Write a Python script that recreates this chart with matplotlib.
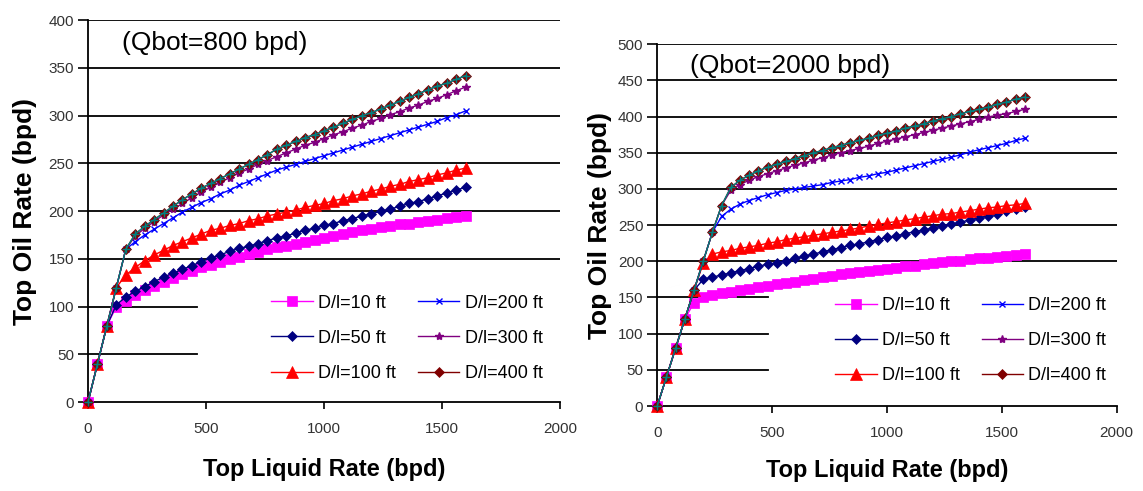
import matplotlib
matplotlib.use("Agg")
import matplotlib.pyplot as plt

plt.rcParams['font.family'] = ['Liberation Sans', 'DejaVu Sans']

# top liquid rate (bpd), same for every series
liquid_rate = [0, 40, 80, 120, 160, 200, 240, 280, 320, 360, 400, 440, 480, 520,
               560, 600, 640, 680, 720, 760, 800, 840, 880, 920, 960, 1000, 1040,
               1080, 1120, 1160, 1200, 1240, 1280, 1320, 1360, 1400, 1440, 1480,
               1520, 1560, 1600]

# Qbot = 800 bpd, top oil rate (bpd)
oil_800_10 = [0, 40, 80, 100, 106, 112, 117, 122, 126, 130, 134, 137, 141, 144,
              147, 150, 152, 155, 157, 160, 162, 164, 166, 168, 170, 172, 174,
              176, 178, 180, 181, 183, 184, 186, 187, 189, 190, 191, 193, 194, 195]
oil_800_50 = [0, 40, 80, 102, 110, 116, 121, 126, 131, 135, 139, 143, 147, 151,
              154, 158, 161, 163, 166, 169, 172, 174, 177, 180, 182, 185, 187,
              190, 192, 195, 197, 200, 202, 205, 208, 210, 213, 216, 219, 222, 225]
oil_800_100 = [0, 40, 80, 120, 133, 141, 148, 154, 159, 164, 168, 172, 176, 180,
               182, 185, 187, 190, 192, 195, 197, 199, 201, 204, 206, 208, 211,
               213, 216, 218, 221, 223, 226, 228, 231, 233, 235, 238, 240, 243, 245]
oil_800_200 = [0, 40, 80, 120, 160, 168, 175, 181, 187, 193, 199, 204, 209, 213,
               218, 222, 227, 231, 235, 239, 243, 246, 249, 252, 255, 258, 261,
               264, 267, 270, 273, 276, 279, 282, 285, 288, 291, 294, 298, 301, 305]
oil_800_300 = [0, 40, 80, 120, 160, 174, 182, 189, 196, 202, 208, 214, 220, 225,
               230, 235, 240, 244, 249, 253, 257, 261, 265, 269, 272, 276, 280,
               283, 287, 290, 294, 297, 301, 304, 308, 311, 315, 318, 322, 326, 330]
oil_800_400 = [0, 40, 80, 120, 160, 176, 184, 191, 198, 205, 212, 218, 224, 229,
               234, 239, 244, 249, 254, 259, 265, 269, 273, 277, 280, 284, 288,
               292, 296, 300, 303, 307, 311, 315, 319, 323, 327, 331, 334, 338, 342]
oil_800_inf = oil_800_400

# Qbot = 2000 bpd, top oil rate (bpd)
oil_2000_10 = [0, 40, 80, 120, 143, 151, 154, 156, 158, 160, 162, 164, 166, 168,
               170, 172, 174, 176, 178, 180, 182, 184, 185, 187, 188, 190, 191,
               193, 194, 196, 197, 199, 200, 201, 203, 204, 205, 206, 208, 209, 210]
oil_2000_50 = [0, 40, 80, 120, 160, 175, 178, 181, 184, 187, 190, 193, 196, 198,
               201, 204, 207, 210, 213, 216, 219, 222, 224, 227, 230, 233, 235,
               238, 241, 243, 246, 249, 251, 254, 257, 260, 263, 266, 269, 272, 275]
oil_2000_100 = [0, 40, 80, 120, 160, 197, 210, 213, 215, 218, 220, 222, 225, 227,
                230, 232, 234, 236, 238, 240, 242, 244, 246, 249, 251, 253, 255,
                257, 259, 261, 263, 265, 266, 268, 270, 272, 274, 275, 277, 278, 280]
oil_2000_200 = [0, 40, 80, 120, 160, 200, 240, 262, 272, 279, 284, 288, 292, 295,
                298, 300, 302, 304, 306, 309, 311, 313, 316, 318, 321, 323, 326,
                329, 332, 335, 338, 341, 344, 347, 351, 354, 357, 360, 363, 367, 370]
oil_2000_300 = [0, 40, 80, 120, 160, 200, 240, 277, 298, 306, 312, 317, 321, 325,
                329, 333, 336, 340, 343, 347, 350, 353, 356, 359, 363, 366, 369,
                372, 375, 378, 381, 384, 387, 390, 393, 396, 399, 402, 404, 407, 410]
oil_2000_400 = [0, 40, 80, 120, 160, 200, 240, 277, 302, 312, 319, 325, 330, 334,
                338, 342, 346, 350, 353, 357, 360, 364, 367, 370, 374, 377, 380,
                384, 387, 390, 394, 397, 400, 404, 407, 410, 413, 417, 420, 424, 427]
oil_2000_inf = oil_2000_400

labels = ['D/l=10 ft', 'D/l=50 ft', 'D/l=100 ft', 'D/l=200 ft', 'D/l=300 ft', 'D/l=400 ft']

# color, marker, marker size for each series
styles = [
    ('#FF00FF', 's', 7.5),
    ('#000080', 'D', 5.5),
    ('#FF0000', '^', 8.5),
    ('#0000FF', 'x', 5),
    ('#800080', '*', 6),
    ('#800000', 'D', 5.5),
]


def draw_panel(ax, series, extra, ymax, note, grid_cut, covered, leg_anchor, label_x):
    """Draw one chart: gridlines, the six series, the hidden teal series and legend"""
    for yv in range(50, ymax + 1, 50):
        xmax = grid_cut if yv in covered else 1.0
        ax.axhline(yv, xmin=0, xmax=xmax, color='black', lw=1.3, zorder=1)
    handles = []
    for vals, (col, mk, ms), lab in zip(series, styles, labels):
        h, = ax.plot(liquid_rate, vals, color=col, marker=mk, markersize=ms,
                     lw=1.0, label=lab, zorder=3, clip_on=False,
                     markeredgewidth=1.0 if mk in ('x', '*') else 0.5)
        handles.append(h)
    ax.plot(liquid_rate, extra, color='#008080', marker='+', markersize=6,
            lw=1.0, zorder=4, clip_on=False)
    ax.set_xlim(0, 2000)
    ax.set_ylim(0, ymax)
    ax.set_xticks([0, 500, 1000, 1500, 2000])
    ax.set_yticks(range(0, ymax + 1, 50))
    for s in ['top', 'right']:
        ax.spines[s].set_visible(False)
    for s in ['left', 'bottom']:
        ax.spines[s].set_linewidth(1.3)
    ax.tick_params(axis='x', direction='out', length=5, width=1.2, pad=9,
                   labelsize=11, labelcolor='#333333')
    ax.tick_params(axis='y', direction='out', length=7, width=1.2, pad=3,
                   labelsize=11, labelcolor='#333333')
    ax.set_xlabel('Top Liquid Rate (bpd)', fontsize=17, fontweight='bold')
    ax.set_ylabel('Top Oil Rate (bpd)', fontsize=19, fontweight='bold')
    ax.xaxis.set_label_coords(0.5, -0.145)
    ax.yaxis.set_label_coords(label_x, 0.5)
    ax.text(0.072, 0.94, note, transform=ax.transAxes, fontsize=19,
            ha='left', va='center')
    ax.legend(handles=handles, ncol=2, loc='lower right', bbox_to_anchor=leg_anchor,
              frameon=False, fontsize=13, handlelength=2.3, handletextpad=0.3,
              columnspacing=1.2, labelspacing=1.0, borderpad=0.2)


fig = plt.figure(figsize=(11.43, 4.91), dpi=100)
ax1 = fig.add_axes([0.077, 0.181, 0.413, 0.778])
ax2 = fig.add_axes([0.575, 0.173, 0.402, 0.737])

draw_panel(ax1, [oil_800_10, oil_800_50, oil_800_100, oil_800_200, oil_800_300, oil_800_400],
           oil_800_inf, 400, '(Qbot=800 bpd)', 0.23, (50, 100), (0.99, 0.02), -0.108)
draw_panel(ax2, [oil_2000_10, oil_2000_50, oil_2000_100, oil_2000_200, oil_2000_300, oil_2000_400],
           oil_2000_inf, 500, '(Qbot=2000 bpd)', 0.24, (50, 100, 150), (1.005, 0.025), -0.098)

fig.savefig('out.png', dpi=100)
